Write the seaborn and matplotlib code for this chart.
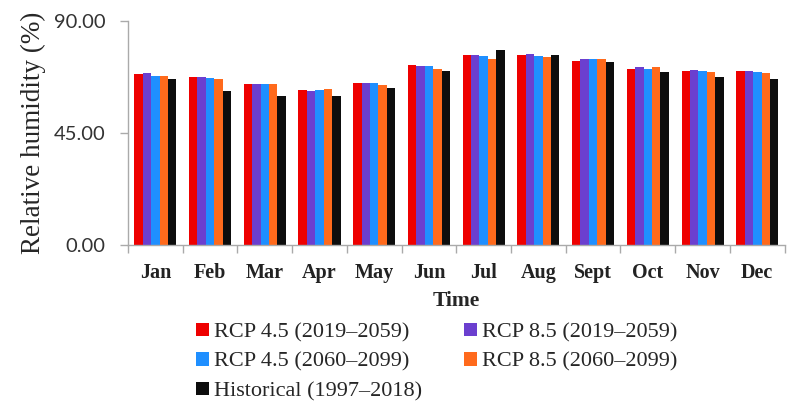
import pandas as pd
import seaborn as sns
import matplotlib.pyplot as plt
from matplotlib.ticker import FormatStrFormatter, FixedLocator

# Monthly relative humidity (%)
months = ["Jan", "Feb", "Mar", "Apr", "May", "Jun",
          "Jul", "Aug", "Sept", "Oct", "Nov", "Dec"]
series_names = ["RCP 4.5 (2019\u20132059)", "RCP 8.5 (2019\u20132059)",
                "RCP 4.5 (2060\u20132099)", "RCP 8.5 (2060\u20132099)",
                "Historical (1997\u20132018)"]
rcp45_early = [68.7, 67.5, 64.8, 62.1, 65.2, 72.2, 76.2, 76.3, 74.0, 70.6, 69.9, 69.9]
rcp85_early = [69.0, 67.4, 64.7, 62.0, 65.2, 71.9, 76.2, 76.7, 74.7, 71.3, 70.4, 69.9]
rcp45_late = [67.9, 67.2, 64.7, 62.4, 65.0, 71.9, 75.9, 75.9, 74.7, 70.8, 69.9, 69.6]
rcp85_late = [67.8, 66.7, 64.7, 62.5, 64.3, 70.8, 74.6, 75.4, 74.7, 71.3, 69.6, 69.0]
historical = [66.6, 61.7, 59.7, 59.7, 63.2, 69.9, 78.3, 76.3, 73.6, 69.4, 67.5, 66.7]
colors = ["#ee0000", "#6b3fcf", "#1f8fff", "#ff6a1c", "#0d0d0d"]

all_values = [rcp45_early, rcp85_early, rcp45_late, rcp85_late, historical]
rows = []
for name, vals in zip(series_names, all_values):
    for m, v in zip(months, vals):
        rows.append({"month": m, "series": name, "value": v})
data = pd.DataFrame(rows)

sns.set_theme(style="white")
plt.rcParams["font.family"] = ["Liberation Serif", "DejaVu Serif"]

fig = plt.figure(figsize=(7.95, 4.18), dpi=100)
ax = fig.add_axes([0.161, 0.414, 0.826, 0.536])

sns.barplot(data=data, x="month", y="value", hue="series", order=months,
            hue_order=series_names, palette=colors, width=0.77, gap=0,
            saturation=1, linewidth=0, ax=ax)

ax.set_xlim(-0.5, 11.5)
ax.set_ylim(0, 90)
ax.set_yticks([0, 45, 90])
ax.yaxis.set_major_formatter(FormatStrFormatter("%.2f"))
for lab in ax.get_yticklabels():
    lab.set_fontfamily("Lato")
    lab.set_fontsize(14.5)
    lab.set_color("#333333")

ax.set_xticks(range(len(months)))
ax.set_xticklabels(months, fontsize=14.5, fontweight="bold", color="#222222")
ax.xaxis.set_minor_locator(FixedLocator([i + 0.5 for i in range(-1, 12)]))
ax.tick_params(axis="x", which="major", length=0, pad=13)
ax.tick_params(axis="x", which="minor", length=6, color="#aaaaaa", width=1, direction="out", bottom=True)
ax.tick_params(axis="y", length=6, color="#aaaaaa", width=1, direction="out", left=True, pad=10)

for s in ["top", "right"]:
    ax.spines[s].set_visible(False)
for s in ["left", "bottom"]:
    ax.spines[s].set_color("#aaaaaa")
    ax.spines[s].set_linewidth(1)

ax.set_xlabel("Time", fontsize=15.5, fontweight="bold", labelpad=6)
ax.set_ylabel("Relative humidity (%)", fontsize=19.5, labelpad=6)

handles, labels = ax.get_legend_handles_labels()
ax.get_legend().remove()
order = [0, 2, 4, 1, 3]
fig.legend([handles[i] for i in order], [labels[i] for i in order],
           loc="upper left", bbox_to_anchor=(0.247, 0.228), ncol=2, frameon=False,
           fontsize=16, handlelength=0.55, handleheight=0.55, handletextpad=0.25,
           columnspacing=1.9, labelspacing=0.45, borderaxespad=0, borderpad=0)

fig.savefig("out.png", dpi=100)
